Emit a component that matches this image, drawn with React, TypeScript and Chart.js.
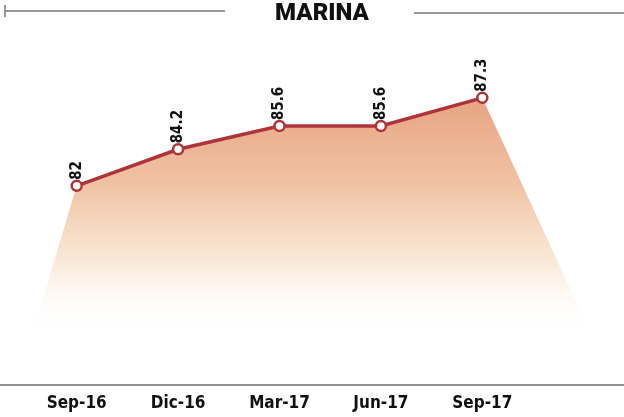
import React, { useEffect, useRef } from "react";
import { Chart, registerables } from "chart.js";

Chart.register(...registerables);

const title = "MARINA";
const categories = ["Sep-16", "Dic-16", "Mar-17", "Jun-17", "Sep-17"];
const values = [82, 84.2, 85.6, 85.6, 87.3];
const valueLabels = ["82", "84.2", "85.6", "85.6", "87.3"];

const LINE_COLOR = "#b0333a";
const COND = "'DejaVu Sans Condensed', 'Liberation Sans Narrow', 'Liberation Sans', sans-serif";

const decorPlugin = {
  id: "decor",
  beforeDatasetsDraw(chart: any) {
    const { ctx, chartArea } = chart;
    const meta = chart.getDatasetMeta(0);
    const pts = meta.data;
    if (!pts.length) return;
    const bottom = chartArea.bottom;
    const first = pts[0];
    const last = pts[pts.length - 1];
    const fadeY = bottom - 55;
    ctx.save();
    ctx.beginPath();
    ctx.moveTo(first.x - (fadeY - first.y) * 0.3, fadeY);
    pts.forEach((p: any) => ctx.lineTo(p.x, p.y));
    ctx.lineTo(last.x + (fadeY - last.y) * 0.46, fadeY);
    ctx.closePath();
    const g = ctx.createLinearGradient(0, chartArea.top + 40, 0, fadeY);
    g.addColorStop(0, "rgba(226,145,105,0.85)");
    g.addColorStop(0.4, "rgba(234,172,130,0.72)");
    g.addColorStop(0.7, "rgba(243,208,170,0.5)");
    g.addColorStop(1, "rgba(255,255,255,0)");
    ctx.fillStyle = g;
    ctx.fill();
    ctx.restore();

    // baseline
    ctx.save();
    ctx.strokeStyle = "#6e6e6e";
    ctx.lineWidth = 1.5;
    ctx.beginPath();
    ctx.moveTo(0, bottom);
    ctx.lineTo(chart.width, bottom);
    ctx.stroke();
    ctx.restore();
  },
  afterDatasetsDraw(chart: any) {
    const { ctx } = chart;
    const meta = chart.getDatasetMeta(0);
    ctx.save();
    ctx.fillStyle = "#111";
    ctx.font = "bold 15px " + COND;
    ctx.textAlign = "left";
    ctx.textBaseline = "middle";
    meta.data.forEach((p: any, i: number) => {
      ctx.save();
      ctx.translate(p.x, p.y - 6);
      ctx.rotate(-Math.PI / 2);
      ctx.fillText(valueLabels[i], 0, 0);
      ctx.restore();
    });
    ctx.restore();
  },
  afterDraw(chart: any) {
    const { ctx } = chart;
    ctx.save();
    ctx.font = "900 24px Roboto, 'Liberation Sans', sans-serif";
    ctx.fillStyle = "#111";
    ctx.textAlign = "center";
    ctx.textBaseline = "middle";
    ctx.fillText(title, 322, 14);
    ctx.strokeStyle = "#777";
    ctx.lineWidth = 1.5;
    ctx.beginPath();
    ctx.moveTo(5, 11);
    ctx.lineTo(225, 11);
    ctx.moveTo(5, 5);
    ctx.lineTo(5, 17);
    ctx.moveTo(414, 13);
    ctx.lineTo(624, 13);
    ctx.stroke();
    ctx.restore();
  },
};

export default function App() {
  const ref = useRef<HTMLCanvasElement | null>(null);
  useEffect(() => {
    if (!ref.current) return;
    const chart = new Chart(ref.current, {
      type: "line",
      data: {
        labels: categories,
        datasets: [
          {
            data: values,
            borderColor: LINE_COLOR,
            borderWidth: 3.5,
            pointRadius: 5,
            pointBorderWidth: 2.5,
            pointBackgroundColor: "#ffffff",
            pointBorderColor: LINE_COLOR,
            fill: false,
            tension: 0,
          },
        ],
      },
      options: {
        animation: false,
        responsive: false,
        maintainAspectRatio: false,
        layout: { padding: { left: 26, right: 91, top: 53, bottom: 4 } },
        plugins: {
          legend: { display: false },
          tooltip: { enabled: false },
          title: { display: false },
        },
        scales: {
          x: {
            offset: true,
            grid: { display: false, drawTicks: false },
            border: { display: false },
            afterFit: (scale: any) => {
              scale.height = 28;
            },
            ticks: {
              padding: 8,
              color: "#111",
              font: { size: 17, weight: "bold", family: COND },
            },
          },
          y: {
            display: false,
            min: 70,
            max: 90,
          },
        },
      },
      plugins: [decorPlugin],
    });
    return () => chart.destroy();
  }, []);
  return (
    <div style={{ position: "fixed", left: 0, top: 0, width: 624, height: 417, background: "#fff" }}>
      <canvas ref={ref} width={624} height={417} style={{ width: 624, height: 417 }} />
    </div>
  );
}
